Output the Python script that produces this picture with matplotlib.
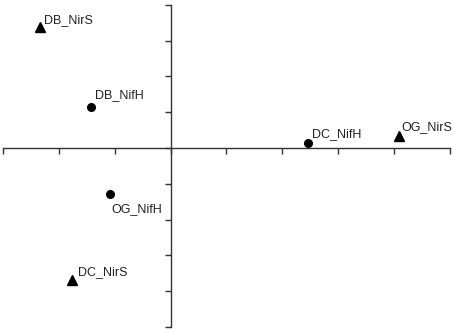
import matplotlib
matplotlib.use("Agg")
import matplotlib.pyplot as plt

# ordination scores (axis units = tick spacing)
labels = ["DB_NirS", "DB_NifH", "DC_NifH", "OG_NirS", "OG_NifH", "DC_NirS"]
xs = [-2.33, -1.43, 2.46, 4.08, -1.08, -1.77]
ys = [3.39, 1.15, 0.13, 0.34, -1.28, -3.69]
kinds = ["^", "o", "o", "^", "o", "^"]
x_ticks = [-3, -2, -1, 0, 1, 2, 3, 4, 5]
y_ticks = [4, 3, 2, 1, 0, -1, -2, -3, -4, -5]

# label offsets in pixels (dx, dy) relative to each point
offsets = [(4, 4), (4, 9), (4, 6), (3, 6), (1, -18), (6, 5)]

plt.rcParams['font.family'] = ['Liberation Sans', 'DejaVu Sans']

fig = plt.figure(figsize=(4.54, 3.33), dpi=100)
ax = fig.add_axes([0, 0, 1, 1])
ax.set_xlim(-3.054, 5.072)
ax.set_ylim(-5.168, 4.134)

for x, y, m, lab, off in zip(xs, ys, kinds, labels, offsets):
    ax.plot(x, y, m, color='black', markersize=6.5 if m == '^' else 5.5)
    ax.annotate(lab, (x, y), xytext=off, textcoords='offset pixels',
                ha='left', va='baseline', fontsize=9, color='#222222')

for s in ['top', 'right']:
    ax.spines[s].set_visible(False)
ax.spines['left'].set_position(('data', 0))
ax.spines['bottom'].set_position(('data', 0))
ax.spines['left'].set_bounds(y_ticks[-1], y_ticks[0])
ax.spines['bottom'].set_bounds(x_ticks[0], x_ticks[-1])
for s in ['left', 'bottom']:
    ax.spines[s].set_color('#333333')
    ax.spines[s].set_linewidth(1.0)

ax.set_xticks(x_ticks)
ax.set_yticks(y_ticks)
ax.set_xticklabels([])
ax.set_yticklabels([])
ax.tick_params(direction='out', length=4, width=1.0, color='#333333')

fig.savefig("out.png", dpi=100)
